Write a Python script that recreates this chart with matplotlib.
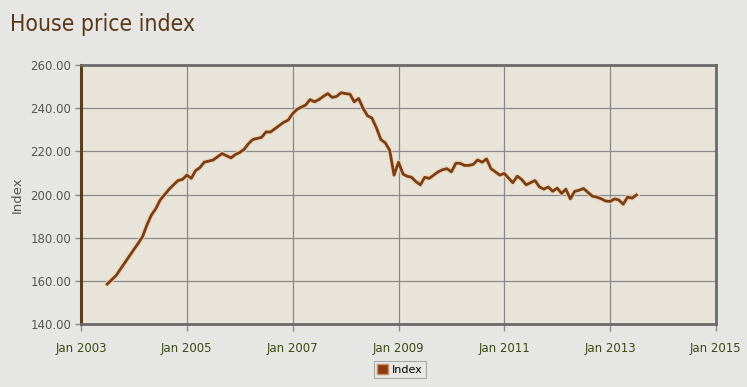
import pandas as pd
import matplotlib.pyplot as plt
import matplotlib.patheffects as pe
from matplotlib.patches import Patch

# monthly index values, Jul 2003 - Jul 2013
start_month = '2003-07-01'
index_values = [
    158.5, 160.5, 162.5, 165.5, 168.5, 171.5, 174.5, 177.5, 180.5, 186.0,
    190.5, 193.5, 197.5, 200.0, 202.5, 204.5, 206.5, 207.0, 209.0, 207.5,
    211.0, 212.5, 215.0, 215.5, 216.0, 217.5, 219.0, 218.0, 217.0, 218.5,
    219.5, 221.0, 223.5, 225.5, 226.0, 226.5, 229.0, 229.0, 230.5, 232.0,
    233.5, 234.5, 237.5, 239.5, 240.5, 241.5, 244.0, 243.0, 244.0, 245.5,
    246.8, 245.0, 245.5, 247.2, 246.8, 246.5, 243.0, 244.5, 240.0, 236.5,
    235.5, 231.0, 225.5, 224.0, 220.5, 209.0, 215.0, 209.5, 208.5, 208.0,
    206.0, 204.5, 208.0, 207.5, 209.0, 210.5, 211.5, 212.0, 210.5, 214.5,
    214.5, 213.5, 213.5, 214.0, 216.0, 215.0, 216.5, 212.0, 210.5, 209.0,
    209.8, 207.5, 205.5, 208.5, 207.0, 204.5, 205.5, 206.5, 203.5, 202.5,
    203.5, 201.5, 203.0, 200.5, 202.5, 198.0, 201.5, 202.0, 202.8, 201.0,
    199.2, 198.8, 198.0, 197.0, 196.8, 198.0, 197.5, 195.5, 198.8, 198.3,
    199.8,
]
y_ticks = [140, 160, 180, 200, 220, 240, 260]
x_tick_years = [2003, 2005, 2007, 2009, 2011, 2013, 2015]

dates = pd.date_range(start_month, periods=len(index_values), freq='MS')

fig = plt.figure(figsize=(7.47, 3.87), dpi=100, facecolor='#e6e6e4')
ax = fig.add_axes([0.1084, 0.1628, 0.85, 0.669], facecolor='#e8e4d9')

line_color = '#7b3d12'
ax.plot(dates, index_values, color=line_color, linewidth=2.0, solid_joinstyle='round',
        path_effects=[pe.Stroke(linewidth=3.8, foreground='#edd2b4', alpha=0.8), pe.Normal()],
        zorder=3, label='Index')

ax.set_xlim(pd.Timestamp('2003-01-01'), pd.Timestamp('2015-01-01'))
ax.set_ylim(140, 260)
ax.set_yticks(y_ticks)
ax.set_yticklabels([f'{v:.2f}' for v in y_ticks])
ax.set_xticks([pd.Timestamp(f'{y}-01-01') for y in x_tick_years])
ax.set_xticklabels([f'Jan {y}' for y in x_tick_years])

ax.grid(True, color='#8a8a8a', linewidth=0.9)
ax.set_axisbelow(True)

for side in ['top', 'right', 'bottom']:
    ax.spines[side].set_color('#6a6a6a')
    ax.spines[side].set_linewidth(2.0)
ax.spines['left'].set_color('#5c3d1c')
ax.spines['left'].set_linewidth(2.2)

ax.tick_params(axis='y', colors='#8a8a8a', labelcolor='#555555', labelsize=8.5, length=4, width=1, pad=3)
ax.tick_params(axis='x', colors='#8a8a8a', labelcolor='#3e4a14', labelsize=8.5, length=5, width=1, pad=8)

ax.set_ylabel('Index', color='#555555', fontsize=9.5, labelpad=5)

fig.text(0.013, 0.937, 'House price index', color='#5a3818', fontsize=16.5,
         fontstretch='condensed', ha='left', va='center')

leg = fig.legend(handles=[Patch(facecolor='#8a3a0e', edgecolor='#c89060', label='Index')],
                 loc='center', bbox_to_anchor=(0.535, 0.045), frameon=True, fontsize=8,
                 handlelength=1.0, handleheight=1.0, handletextpad=0.3, borderpad=0.3,
                 fancybox=False)
leg.get_frame().set_edgecolor('#9a9a9a')
leg.get_frame().set_facecolor('#e6e6e4')
leg.get_frame().set_linewidth(0.8)

fig.savefig('out.png', dpi=100, facecolor=fig.get_facecolor())
